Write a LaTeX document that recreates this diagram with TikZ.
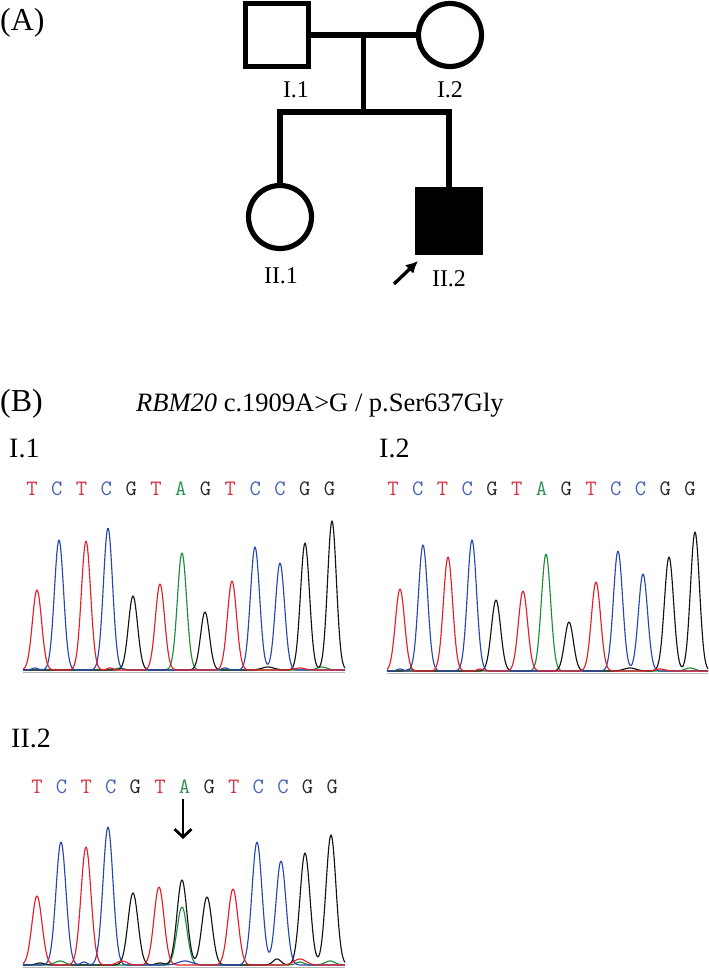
\documentclass[tikz,border=0pt]{standalone}
\usepackage{fontspec}
\setmainfont{Liberation Serif}
\usetikzlibrary{arrows.meta,calc}
\definecolor{tred}{RGB}{228,30,42}
\definecolor{tblue}{RGB}{40,72,172}
\definecolor{tblack}{RGB}{20,20,20}
\definecolor{tgreen}{RGB}{30,140,60}
\definecolor{lred}{RGB}{215,50,65}
\definecolor{lblue}{RGB}{70,100,180}
\definecolor{lblack}{RGB}{40,40,40}
\definecolor{lgreen}{RGB}{45,145,80}
\newcommand\chan[5]{\draw[trace,#1] plot[domain=#2:#3,samples=420] (\x,{#4-(#5)});}
\begin{document}
\begin{tikzpicture}[x=1pt,y=-1pt,
  declare function={g(\xa,\ca,\sa)=exp(max(-20,-0.5*((\xa-\ca)/\sa)^2));},
  ped/.style={draw,line width=5.2pt,minimum size=63pt,inner sep=0pt},
  sq/.style={ped,rectangle},
  ci/.style={ped,circle},
  pline/.style={line width=5.2pt},
  plab/.style={font=\fontsize{24}{24}\selectfont,anchor=base,inner sep=0pt},
  panel/.style={font=\fontsize{32}{32}\selectfont,anchor=base west,inner sep=0pt},
  slab/.style={font=\fontsize{28}{28}\selectfont,anchor=base west,inner sep=0pt},
  seq/.style={font=\ttfamily\fontsize{22}{22}\selectfont,anchor=base,inner sep=0pt},
  trace/.style={line width=1.15pt,line join=round},
  base/.style={line width=1.6pt,color=gray!55}]
\useasboundingbox (0,0) rectangle (709,970);
% ---------- (A) pedigree ----------
\node[panel] (labA) at (0,30) {(A)};
\node[sq] (I1) at (277,35) {};
\node[ci] (I2) at (450,35) {};
\node[ci] (II1) at (280,217) {};
\node[sq,fill=black] (II2) at (449,221) {};
\coordinate (mar) at ($(I1.east)!0.5!(I2.west)$);
\coordinate (sib) at (mar |- 0,112);
\coordinate (sl) at (II1.north |- 0,112);
\coordinate (sr) at (II2.north |- 0,112);
\draw[pline] (I1) -- (I2);
\draw[pline] (mar) -- (sib);
\draw[pline,line join=miter] (II1.north) -- (sl) -- (sr) -- (II2.north);
\node[plab] (tI1) at (296,97) {I.1};
\node[plab] (tI2) at (450,97) {I.2};
\node[plab] (tII1) at (281,283) {II.1};
\node[plab] (tII2) at (449,286) {II.2};
\coordinate (pa0) at (394,284);
\coordinate (pa1) at (418,261);
\draw[line width=3.4pt,-{Latex[length=12pt,width=12pt]}] (pa0) -- (pa1);
% ---------- (B) ----------
\node[panel] (labB) at (0,411) {(B)};
\node[anchor=base west,inner sep=0pt,font=\fontsize{26.5}{26.5}\selectfont] (title) at (136,411) {\textit{RBM20} c.1909A>G / p.Ser637Gly};
\node[slab] (sI1) at (9,457) {I.1};
\node[slab] (sI2) at (379,457) {I.2};
\node[slab] (sII2) at (11,747) {II.2};
\foreach \L/\C [count=\i] in {T/lred,C/lblue,T/lred,C/lblue,G/lblack,T/lred,A/lgreen,G/lblack,T/lred,C/lblue,C/lblue,G/lblack,G/lblack}{
  \node[seq,text=\C] (sa\i) at ({32+24.8*(\i-1)},495) {\L};
  \node[seq,text=\C] (sb\i) at ({393+24.75*(\i-1)},495) {\L};
  \node[seq,text=\C] (sc\i) at ({37+24.6*(\i-1)},793) {\L};
}
% panel 1
\draw[base] (23,672.5) -- (345,672.5);
\chan{tgreen}{23}{345}{670}{117*g(\x,182,4.6)+3*g(\x,322,5)+2*g(\x,120,4)}
\chan{tblack}{23}{345}{670}{74*g(\x,133,4.6)+58*g(\x,205,4.4)+127*g(\x,305,4.5)+149*g(\x,332,4.4)+3*g(\x,268,6)}
\chan{tblue}{23}{345}{670}{130*g(\x,59,4.6)+142*g(\x,108,4.6)+123*g(\x,255,4.6)+107*g(\x,280,4.6)+2*g(\x,35,3)+2*g(\x,225,3)}
\chan{tred}{23}{345}{670}{80*g(\x,37,4.6)+129*g(\x,86,4.6)+86*g(\x,160,4.6)+89*g(\x,232,4.6)+2*g(\x,300,5)+2*g(\x,110,3)}
% panel 2
\draw[base] (387,673.5) -- (708,673.5);
\chan{tgreen}{387}{708}{671}{117*g(\x,546,4.6)+3*g(\x,690,5)+2*g(\x,410,3)}
\chan{tblack}{387}{708}{671}{71*g(\x,496,4.6)+49*g(\x,569,4.4)+114*g(\x,669,4.6)+139*g(\x,695,4.5)+3*g(\x,630,6)}
\chan{tblue}{387}{708}{671}{126*g(\x,423,4.6)+131*g(\x,472,4.6)+120*g(\x,618,4.6)+97*g(\x,643,4.6)+2*g(\x,400,3)}
\chan{tred}{387}{708}{671}{82*g(\x,400,4.6)+114*g(\x,448,4.6)+80*g(\x,523,4.6)+89*g(\x,596,4.6)+2*g(\x,660,5)+2*g(\x,480,3)}
% panel 3
\draw[base] (23,967.5) -- (345,967.5);
\chan{tgreen}{23}{345}{965}{58*g(\x,182,5)+4*g(\x,60,5)+4*g(\x,330,5)+3*g(\x,300,4)}
\chan{tblack}{23}{345}{965}{72*g(\x,133,5)+85*g(\x,182,5)+68*g(\x,207,5)+112*g(\x,305,5)+130*g(\x,331,5)+6*g(\x,277,4)+2*g(\x,160,4)+2*g(\x,40,4)}
\chan{tblue}{23}{345}{965}{123*g(\x,61,5)+138*g(\x,108,5)+123*g(\x,257,5)+104*g(\x,281,5)+4*g(\x,185,7)+3*g(\x,84,3)}
\chan{tred}{23}{345}{965}{69*g(\x,37,5)+118*g(\x,86,5)+78*g(\x,159,5)+76*g(\x,233,5)+6*g(\x,300,6)+4*g(\x,122,5)}
\coordinate (da0) at (183,799);
\coordinate (da1) at (183,839);
\draw[line width=2.8pt,-{Straight Barb[length=8pt,width=17pt]}] (da0) -- (da1);
\end{tikzpicture}
\end{document}
